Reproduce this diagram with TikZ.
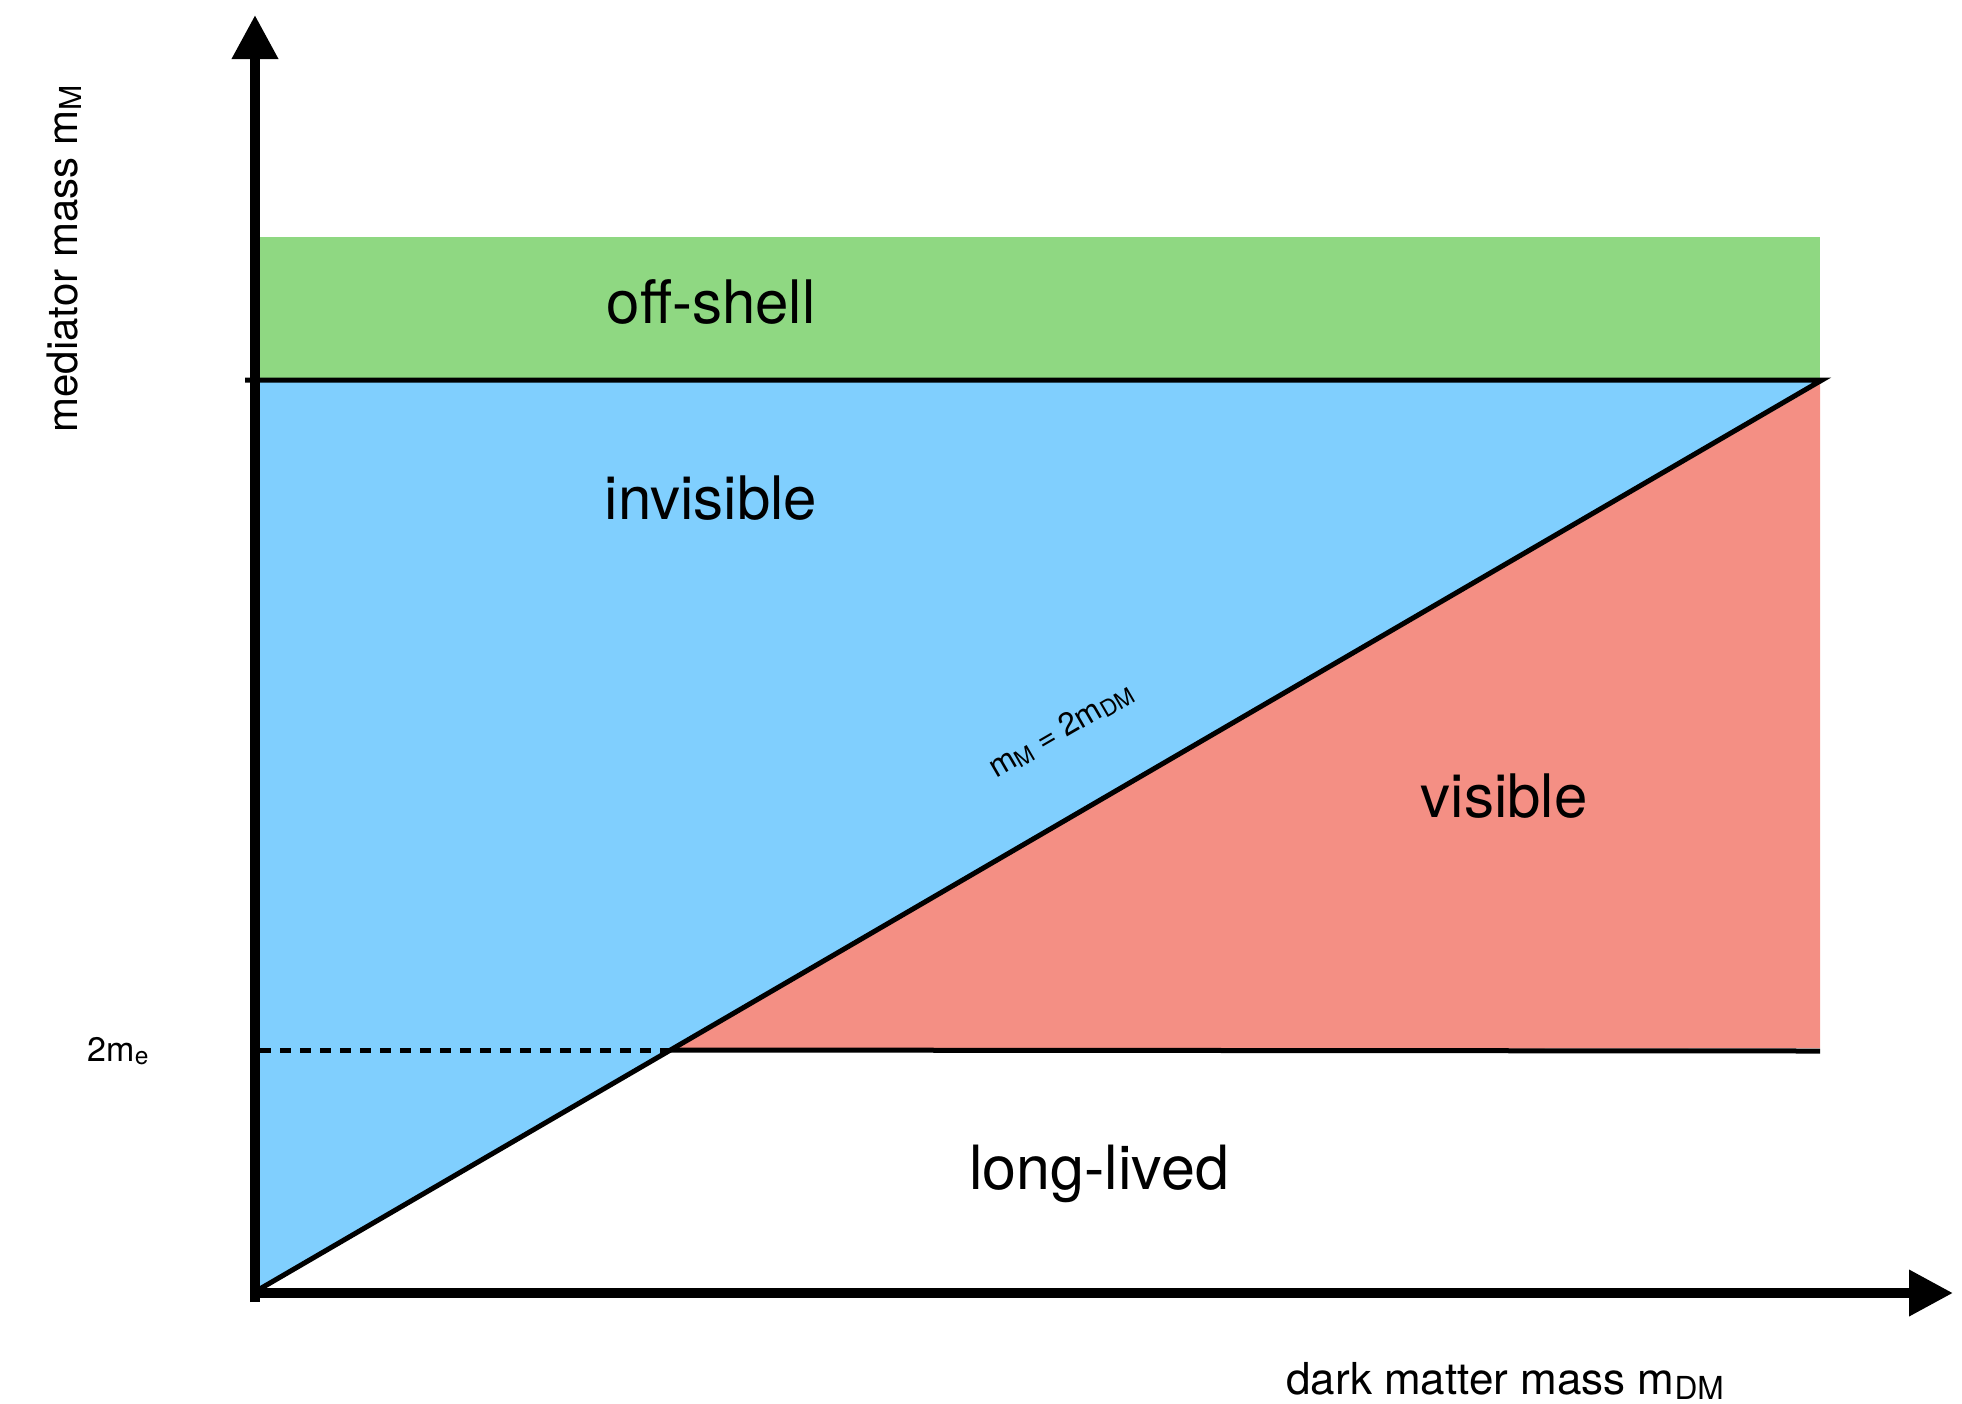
\documentclass[tikz,border=0pt]{standalone}
\usepackage{fontspec}
\setmainfont{TeX Gyre Heros}
\usetikzlibrary{arrows.meta}
\definecolor{offgreen}{RGB}{143,216,130}
\definecolor{invblue}{RGB}{128,207,254}
\definecolor{visred}{RGB}{244,143,132}
\newcommand\subsc[1]{\raisebox{-0.1em}{\scalebox{0.72}{#1}}}
\begin{document}
\begin{tikzpicture}[x=0.5pt,y=-0.5pt,
  axis/.style={line width=5pt,-{Triangle[length=22pt,width=22pt]}},
  bound/.style={line width=2.5pt},
  region/.style={font=\fontsize{30}{36}\selectfont, anchor=base, inner sep=0pt},
  axlabel/.style={font=\fontsize{21}{25}\selectfont, inner sep=0pt},
  small/.style={font=\fontsize{17}{20}\selectfont, inner sep=0pt}]
\useasboundingbox (0,0) rectangle (1962,1403);
\coordinate (O) at (258,1290);
\coordinate (D) at (1822,380);
\coordinate (E) at (670,1050);
\coordinate (L) at (245,380);
\coordinate (R) at (1820,1051);
\coordinate (Dl) at (260,1050);
% regions
\fill[offgreen] (260,237) rectangle (1820,380);
\fill[invblue] (260,380) -- (D) -- (O) -- cycle;
\fill[visred] (1820,384) -- (1820,1048) -- (E) -- cycle;
% boundaries
\draw[bound, line join=miter] (L) -- (D) -- (O);
\draw[bound] (E) -- (R);
\draw[bound, dash pattern=on 5.5pt off 4.5pt] (Dl) -- (E);
% axes
\coordinate (Yb) at (255,1302);
\coordinate (Yt) at (255,15);
\coordinate (Xl) at (250,1293);
\coordinate (Xr) at (1953,1293);
\draw[axis] (Yb) -- (Yt);
\draw[axis] (Xl) -- (Xr);
% labels
\node[region] (offshell) at (711,323) {off-shell};
\node[region] (invisible) at (711,519) {invisible};
\node[region] (visible) at (1504,817) {visible};
\node[region, font=\fontsize{30.5}{36}\selectfont] (longlived) at (1099,1189) {long-lived};
\node[small, font=\fontsize{15.8}{19}\selectfont, rotate=30.14] (diag) at (1061,730) {m\subsc{M} = 2m\subsc{DM}};
\node[axlabel, rotate=90] (ylab) at (64,259) {mediator mass m\subsc{M}};
\node[axlabel, font=\fontsize{22}{26}\selectfont] (xlab) at (1505,1381) {dark matter mass m\subsc{DM}};
\node[small] (twome) at (118,1051) {2m\subsc{e}};
\end{tikzpicture}
\end{document}
